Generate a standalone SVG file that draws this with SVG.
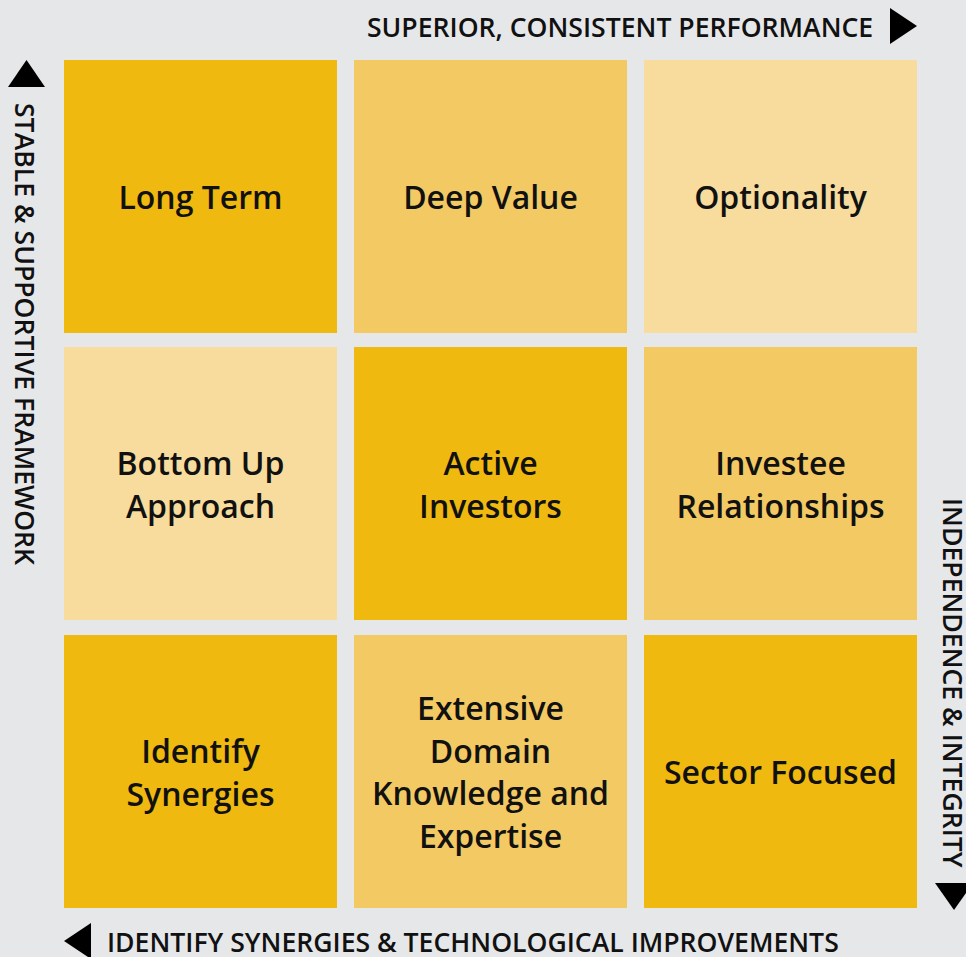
<svg xmlns="http://www.w3.org/2000/svg" width="966" height="957" viewBox="0 0 966 957">
<style>
.dark{fill:#EFB90F}
.mid{fill:#F3C964}
.light{fill:#F8DC9D}
.lbl{font-family:"Open Sans","Noto Sans","Liberation Sans",sans-serif;font-weight:600;font-size:32px;fill:#111;text-anchor:middle}
.axis{font-family:"Open Sans","Noto Sans","Liberation Sans",sans-serif;font-weight:600;font-size:26.6px;fill:#111}
.tri{fill:#000}
</style>
<rect x="0" y="0" width="966" height="957" fill="#E6E7E9"/>
<g id="axes">
<text class="axis" x="367" y="37">SUPERIOR, CONSISTENT PERFORMANCE</text>
<polygon class="tri" points="890,8 917,26 890,44"/>
<text class="axis" transform="translate(15,103) rotate(90)">STABLE &amp; SUPPORTIVE FRAMEWORK</text>
<polygon class="tri" points="8,87 26.5,60 45,87"/>
<text class="axis" transform="translate(943,498) rotate(90)">INDEPENDENCE &amp; INTEGRITY</text>
<polygon class="tri" points="935,883 973,883 954,910"/>
<text class="axis" x="107" y="952">IDENTIFY SYNERGIES &amp; TECHNOLOGICAL IMPROVEMENTS</text>
<polygon class="tri" points="64,941 91,923 91,959"/>
</g>
<g id="n-long-term"><rect class="dark" x="64" y="60" width="273" height="273"/><text class="lbl" x="200.5" y="208.5">Long Term</text></g>
<g id="n-deep-value"><rect class="mid" x="354" y="60" width="273" height="273"/><text class="lbl" x="490.5" y="208.5">Deep Value</text></g>
<g id="n-optionality"><rect class="light" x="644" y="60" width="273" height="273"/><text class="lbl" x="780.5" y="208.5">Optionality</text></g>
<g id="n-bottom-up"><rect class="light" x="64" y="347" width="273" height="273"/><text class="lbl" x="200.5" y="474.5">Bottom Up</text><text class="lbl" x="200.5" y="517.5">Approach</text></g>
<g id="n-active-investors"><rect class="dark" x="354" y="347" width="273" height="273"/><text class="lbl" x="490.5" y="474.5">Active</text><text class="lbl" x="490.5" y="517.5">Investors</text></g>
<g id="n-investee"><rect class="mid" x="644" y="347" width="273" height="273"/><text class="lbl" x="780.5" y="474.5">Investee</text><text class="lbl" x="780.5" y="517.5">Relationships</text></g>
<g id="n-identify-synergies"><rect class="dark" x="64" y="635" width="273" height="273"/><text class="lbl" x="200.5" y="762.5">Identify</text><text class="lbl" x="200.5" y="805.5">Synergies</text></g>
<g id="n-extensive"><rect class="mid" x="354" y="635" width="273" height="273"/><text class="lbl" x="490.5" y="719.5">Extensive</text><text class="lbl" x="490.5" y="762.5">Domain</text><text class="lbl" x="490.5" y="805">Knowledge and</text><text class="lbl" x="490.5" y="847.5">Expertise</text></g>
<g id="n-sector-focused"><rect class="dark" x="644" y="635" width="273" height="273"/><text class="lbl" x="780.5" y="783.5">Sector Focused</text></g>
<g id="connectors"></g>
</svg>
